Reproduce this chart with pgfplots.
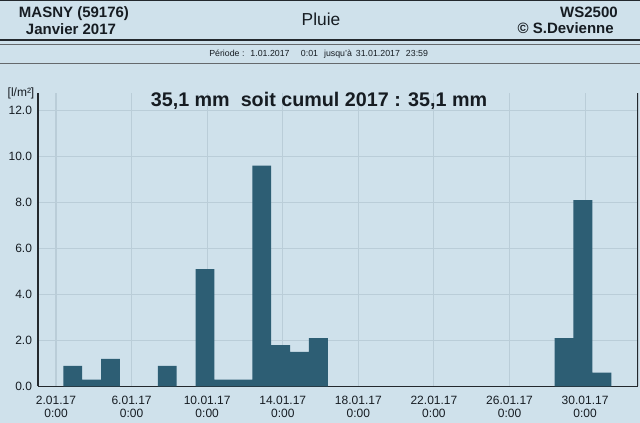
\documentclass[border=0pt]{standalone}
\usepackage{pgfplots}
\pgfplotsset{compat=1.18}
\usepackage{pgfplotstable}
\usepackage{fontspec}
\setmainfont{Liberation Sans}

\definecolor{bgcol}{RGB}{207,225,235}
\definecolor{gridcol}{RGB}{186,205,216}
\definecolor{barcol}{RGB}{45,94,116}
\definecolor{linecol}{RGB}{35,40,45}
\definecolor{txtcol}{RGB}{22,28,34}

% pluie journaliere, janvier 2017 (jour, l/m2)
\pgfplotstableread{
day val
2  0.9
3  0.3
4  1.2
7  0.9
9  5.1
10 0.3
11 0.3
12 9.6
13 1.8
14 1.5
15 2.1
28 2.1
29 8.1
30 0.6
}\rain

\begin{document}
\begin{tikzpicture}
\useasboundingbox (0,0) rectangle (480pt,317.25pt);
\fill[bgcol] (0,0) rectangle (480pt,317.25pt);

\begin{axis}[
  at={(28.5pt,27.375pt)}, anchor=south west,
  scale only axis, width=450pt, height=220.125pt,
  xmin=1.047, xmax=32.8, ymin=0, ymax=12.76,
  axis lines=left, axis line style={-, draw=linecol, line width=1pt},
  xtick={2,6,...,30},
  xticklabels={{2.01.17\\0:00},{6.01.17\\0:00},{10.01.17\\0:00},{14.01.17\\0:00},
    {18.01.17\\0:00},{22.01.17\\0:00},{26.01.17\\0:00},{30.01.17\\0:00}},
  ytick={0,2,...,12},
  major tick length=0pt,
  grid=major, major grid style={gridcol, line width=0.8pt},
  tick label style={font=\fontsize{9}{9.75}\selectfont, text=txtcol},
  xticklabel style={align=center, yshift=-3.5pt},
  yticklabel style={xshift=-1pt},
  /pgf/number format/.cd, fixed, fixed zerofill, precision=1, assume math mode=true,
]
\addplot[ybar, bar width=1, bar shift=0, fill=barcol, draw=none]
  table[x expr=\thisrow{day}+0.886, y=val] {\rain};
\draw[linecol, line width=1.5pt] (rel axis cs:1,0) -- (rel axis cs:1,1);
\end{axis}

\begin{scope}[x=0.75pt, y=-0.75pt, yshift=317.25pt]
  % header
  \draw[linecol, line width=0.6pt] (0,0.5) -- (640,0.5);
  \draw[linecol, line width=1.1pt] (0,40) -- (640,40);
  \draw[linecol!70, line width=0.7pt] (0,44) -- (640,44);
  \draw[linecol!70, line width=0.7pt] (0,63.5) -- (640,63.5);
  \node[anchor=base, inner sep=0, text=txtcol, font=\fontsize{11.25}{12}\selectfont\bfseries] at (74,18) {MASNY (59176)};
  \node[anchor=base, inner sep=0, text=txtcol, font=\fontsize{11.25}{12}\selectfont\bfseries] at (71,34.5) {Janvier 2017};
  \node[anchor=base, inner sep=0, text=txtcol, font=\fontsize{13}{14}\selectfont] at (321,26) {Pluie};
  \node[anchor=base east, inner sep=0, text=txtcol, font=\fontsize{11.25}{12}\selectfont\bfseries] at (618,17.5) {WS2500};
  \node[anchor=base east, inner sep=0, text=txtcol, font=\fontsize{11.25}{12}\selectfont\bfseries] at (614,33.5) {\textcopyright{} S.Devienne};
  \node[anchor=base west, inner sep=0, text=txtcol, font=\fontsize{6.6}{7}\selectfont] at (209,56.7)
    {Période :\hspace{4.5pt}1.01.2017\hspace{8.5pt}0:01\hspace{4.5pt}jusqu'à\hspace{3pt}31.01.2017\hspace{4.5pt}23:59};
  % unit and total
  \node[anchor=base, inner sep=0, text=txtcol, font=\fontsize{9}{10}\selectfont] at (21,97) {[l/m²]};
  \node[anchor=base, inner sep=0, text=txtcol, font=\fontsize{14.8}{16}\selectfont\bfseries] at (319,107)
    {35,1 mm~~soit cumul 2017 : 35,1 mm};
\end{scope}
\end{tikzpicture}
\end{document}
